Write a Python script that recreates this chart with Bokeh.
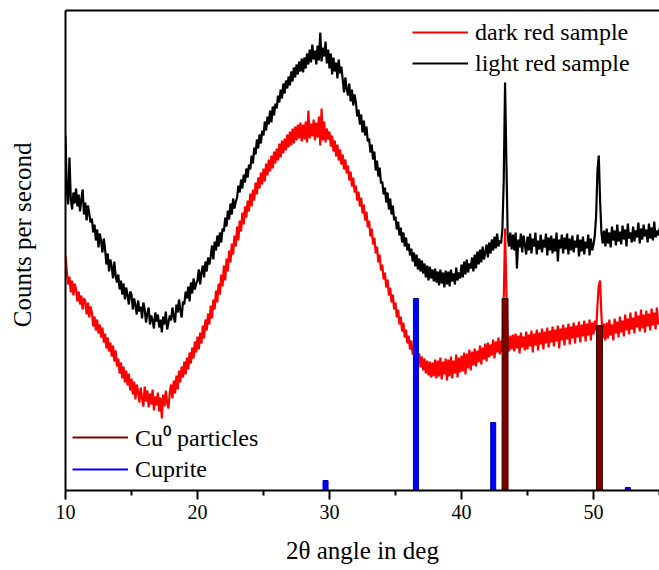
from bokeh.plotting import figure
from bokeh.models import Range1d, LinearAxis, FixedTicker, Legend, LegendItem
from bokeh.embed import file_html
from bokeh.resources import INLINE

# ---------------- data ----------------
ANGLE_START = 10.0      # first 2-theta sample, deg
ANGLE_STEP = 0.1        # sampling step, deg

# light red sample (black trace), counts (arbitrary units), 10.0 .. 55.0 deg, one row per degree
light_red_counts = [
    355, 300, 286, 333, 292, 281, 298, 287, 302, 284,
    296, 279, 291, 301, 276, 288, 270, 285, 277, 268,
    272, 258, 266, 250, 261, 243, 257, 249, 238, 252,
    241, 226, 237, 219, 231, 224, 212, 229, 215, 208,
    216, 201, 210, 196, 207, 191, 203, 195, 186, 199,
    196, 181, 192, 185, 176, 190, 179, 184, 172, 188,
    181, 168, 177, 183, 166, 175, 170, 162, 178, 169,
    176, 163, 171, 158, 174, 166, 179, 161, 168, 175,
    170, 183, 174, 168, 186, 178, 191, 180, 173, 189,
    186, 199, 192, 204, 189, 208, 197, 212, 201, 207,
    210, 221, 206, 218, 225, 213, 229, 219, 233, 226,
    234, 245, 231, 249, 240, 255, 244, 258, 248, 262,
    259, 273, 264, 280, 271, 287, 276, 292, 282, 289,
    293, 305, 298, 311, 302, 316, 308, 322, 313, 326,
    321, 335, 327, 343, 336, 351, 342, 356, 347, 360,
    355, 369, 360, 374, 366, 380, 368, 384, 375, 387,
    382, 395, 388, 401, 392, 407, 397, 410, 402, 414,
    405, 419, 409, 423, 413, 426, 416, 429, 419, 432,
    418, 433, 422, 437, 426, 441, 428, 446, 431, 440,
    426, 445, 430, 458, 429, 443, 434, 449, 427, 441,
    422, 437, 416, 433, 419, 428, 412, 431, 417, 424,
    411, 398, 413, 402, 395, 407, 389, 401, 385, 396,
    388, 374, 381, 366, 376, 358, 370, 355, 364, 349,
    352, 338, 346, 331, 339, 320, 330, 314, 323, 307,
    309, 296, 303, 288, 298, 281, 292, 276, 285, 270,
    274, 261, 269, 255, 263, 248, 258, 244, 253, 240,
    247, 235, 242, 229, 238, 224, 236, 221, 232, 219,
    230, 217, 227, 213, 225, 210, 224, 212, 221, 209,
    222, 208, 219, 205, 221, 207, 218, 203, 220, 206,
    219, 204, 221, 209, 217, 206, 223, 210, 218, 212,
    226, 213, 229, 216, 231, 218, 227, 222, 233, 219,
    236, 222, 239, 226, 241, 228, 244, 231, 238, 246,
    233, 248, 237, 251, 240, 254, 242, 257, 244, 250,
    247, 262, 310, 408, 330, 255, 244, 258, 241, 256,
    240, 258, 222, 251, 243, 257, 238, 255, 246, 236,
    254, 240, 257, 237, 252, 244, 258, 236, 250, 241,
    256, 238, 251, 243, 257, 235, 253, 240, 255, 237,
    252, 239, 258, 229, 251, 242, 256, 237, 253, 241,
    257, 236, 252, 240, 255, 238, 250, 243, 256, 234,
    251, 239, 254, 236, 249, 242, 256, 235, 252, 240,
    246, 255, 275, 320, 335, 290, 258, 247, 260, 244,
    262, 247, 258, 243, 264, 250, 260, 245, 266, 249,
    259, 246, 265, 251, 261, 244, 267, 252, 258, 248,
    264, 249, 260, 253, 268, 247, 262, 251, 266, 254,
    261, 248, 267, 252, 263, 250, 269, 253, 260, 255,
    262,
]

# dark red sample (red trace), counts (arbitrary units), 10.0 .. 55.0 deg, one row per degree
dark_red_counts = [
    235, 219, 206, 214, 198, 210, 195, 207, 201, 189,
    199, 186, 195, 181, 192, 189, 176, 188, 173, 184,
    178, 164, 174, 160, 171, 157, 166, 153, 163, 148,
    157, 142, 153, 139, 148, 134, 145, 129, 140, 124,
    132, 117, 128, 112, 124, 108, 120, 105, 117, 100,
    112, 96, 109, 91, 106, 99, 88, 103, 92, 84,
    104, 89, 100, 83, 97, 86, 101, 80, 94, 85,
    98, 79, 93, 72, 96, 84, 100, 88, 82, 98,
    106, 92, 110, 97, 115, 101, 120, 108, 124, 113,
    129, 116, 133, 121, 138, 127, 143, 132, 149, 138,
    154, 141, 158, 147, 165, 152, 171, 160, 177, 166,
    185, 172, 191, 181, 200, 188, 207, 196, 216, 204,
    225, 210, 232, 219, 240, 228, 247, 236, 255, 244,
    264, 250, 270, 259, 278, 266, 284, 273, 290, 279,
    297, 284, 301, 290, 308, 296, 313, 302, 318, 306,
    322, 309, 327, 315, 331, 319, 335, 322, 339, 327,
    342, 330, 347, 333, 350, 337, 352, 340, 356, 343,
    359, 345, 362, 347, 364, 350, 366, 352, 368, 349,
    366, 351, 369, 348, 380, 352, 367, 354, 371, 350,
    368, 353, 374, 345, 382, 350, 369, 348, 362, 351,
    359, 344, 355, 339, 350, 334, 346, 330, 341, 326,
    336, 321, 331, 317, 325, 310, 319, 304, 313, 298,
    305, 290, 299, 284, 293, 277, 286, 270, 279, 263,
    270, 254, 262, 246, 253, 237, 244, 228, 236, 220,
    226, 211, 218, 203, 211, 195, 203, 188, 196, 181,
    188, 173, 181, 166, 174, 159, 168, 153, 161, 147,
    155, 141, 150, 136, 145, 131, 140, 127, 137, 123,
    134, 120, 132, 117, 130, 115, 129, 113, 128, 114,
    131, 112, 130, 114, 133, 111, 129, 116, 132, 110,
    131, 114, 134, 112, 130, 117, 136, 113, 133, 118,
    135, 119, 138, 116, 137, 122, 141, 120, 139, 125,
    142, 124, 140, 128, 145, 126, 143, 131, 147, 129,
    148, 133, 146, 135, 151, 132, 149, 138, 153, 136,
    150, 138, 190, 262, 200, 152, 139, 155, 141, 156,
    139, 157, 142, 155, 137, 158, 143, 154, 140, 159,
    141, 156, 144, 160, 138, 157, 145, 161, 140, 158,
    146, 162, 141, 159, 147, 163, 143, 160, 148, 164,
    144, 161, 149, 165, 142, 162, 150, 166, 145, 163,
    151, 167, 146, 164, 152, 168, 147, 165, 153, 169,
    148, 166, 154, 170, 149, 167, 155, 171, 150, 168,
    156, 170, 160, 185, 205, 210, 175, 152, 167, 150,
    168, 152, 171, 155, 166, 150, 172, 157, 169, 153,
    174, 158, 170, 154, 176, 160, 172, 156, 178, 161,
    173, 157, 179, 163, 175, 159, 181, 162, 176, 158,
    180, 164, 177, 160, 182, 165, 178, 161, 183, 166,
    172,
]

# reference stick patterns
cu_angles = [43.3, 50.45]
cu_heights = [192, 165]
cuprite_angles = [29.7, 36.55, 42.4, 52.6]
cuprite_heights = [10, 192, 68, 3]

x_major_ticks = [10, 20, 30, 40, 50]
x_minor_ticks = [15, 25, 35, 45, 55]

light_red_angles = [round(ANGLE_START + ANGLE_STEP * i, 2) for i in range(len(light_red_counts))]
dark_red_angles = [round(ANGLE_START + ANGLE_STEP * i, 2) for i in range(len(dark_red_counts))]

FONT = "Liberation Serif"

# ---------------- figure ----------------
p = figure(frame_width=594, frame_height=480,
           x_range=Range1d(10, 55), y_range=Range1d(0, 480),
           output_backend="svg", toolbar_location=None,
           min_border_left=65, min_border_right=0,
           min_border_top=10, min_border_bottom=80)
p.grid.visible = False
p.outline_line_color = None
p.background_fill_color = "white"
p.border_fill_color = "white"

# x axis
xa = p.xaxis[0]
xa.ticker = FixedTicker(ticks=x_major_ticks, minor_ticks=x_minor_ticks)
xa.axis_line_width = 2
xa.major_tick_line_width = 2
xa.minor_tick_line_width = 2
xa.major_tick_in = 0
xa.major_tick_out = 9
xa.minor_tick_in = 0
xa.minor_tick_out = 5
xa.major_label_text_font = FONT
xa.major_label_text_font_size = "20px"
xa.major_label_text_color = "black"
xa.major_label_standoff = 5
xa.axis_label = "2θ angle in deg"
xa.axis_label_text_font = FONT
xa.axis_label_text_font_size = "25px"
xa.axis_label_text_font_style = "normal"
xa.axis_label_text_color = "black"
xa.axis_label_standoff = 15

# y axis (no ticks)
ya = p.yaxis[0]
ya.ticker = FixedTicker(ticks=[])
ya.axis_line_width = 2
ya.major_tick_line_color = None
ya.minor_tick_line_color = None
ya.major_label_text_color = None
ya.axis_label = "\u00a0\u00a0\u00a0\u00a0\u00a0Counts per second"
ya.axis_label_text_font = FONT
ya.axis_label_text_font_size = "25px"
ya.axis_label_text_font_style = "normal"
ya.axis_label_text_color = "black"
ya.axis_label_standoff = 30

# top frame line
top = LinearAxis(ticker=FixedTicker(ticks=[]), axis_line_width=2,
                 major_tick_line_color=None, minor_tick_line_color=None,
                 major_label_text_color=None)
p.add_layout(top, "above")

# traces
black_r = p.line(light_red_angles, light_red_counts, line_color="black", line_width=2.2)
red_r = p.line(dark_red_angles, dark_red_counts, line_color="#ff0000", line_width=2.2)

# stick patterns
p.vbar(x=cuprite_angles, top=cuprite_heights, bottom=0, width=0.38,
       fill_color="#0000ff", line_color="#0000aa", line_width=1)
p.vbar(x=cu_angles, top=cu_heights, bottom=0, width=0.45,
       fill_color="#800000", line_color="#300000", line_width=1)

# legend-only line glyphs for the stick patterns (single point: draws nothing in the plot)
cu_leg = p.line(x=cu_angles[:1], y=[0], line_color="#800000", line_width=2)
cuprite_leg = p.line(x=cuprite_angles[:1], y=[0], line_color="#0000ff", line_width=2)


def make_legend(items, loc):
    lg = Legend(items=items, location=loc, orientation="vertical")
    lg.label_text_font = FONT
    lg.label_text_font_size = "24px"
    lg.label_text_color = "black"
    lg.glyph_width = 56
    lg.glyph_height = 30
    lg.label_height = 30
    lg.label_standoff = 7
    lg.spacing = 1
    lg.padding = 0
    lg.margin = 0
    lg.border_line_color = None
    lg.background_fill_alpha = 0
    return lg


leg1 = make_legend([LegendItem(label="dark red sample", renderers=[red_r]),
                    LegendItem(label="light red sample", renderers=[black_r])],
                   (347, 412))
leg2 = make_legend([LegendItem(label="Cu⁰ particles", renderers=[cu_leg]),
                    LegendItem(label="Cuprite", renderers=[cuprite_leg])],
                   (7, 6))
p.add_layout(leg1, "center")
p.add_layout(leg2, "center")

open("out.html", "w").write(file_html(p, INLINE))
